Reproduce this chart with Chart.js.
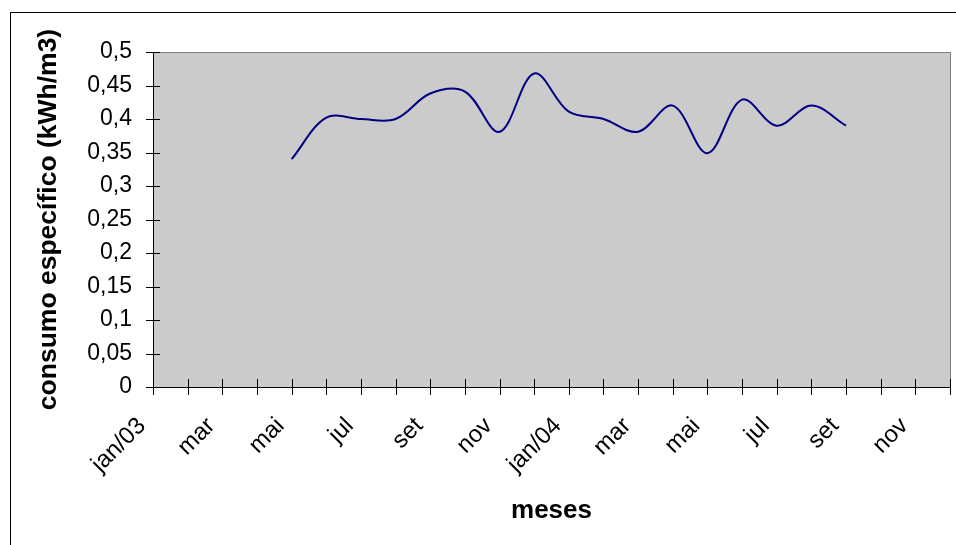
<!DOCTYPE html>
<html>
<head>
<meta charset="utf-8">
<title>Consumo específico</title>
<script src="https://cdn.jsdelivr.net/npm/chart.js@4/dist/chart.umd.min.js"></script>
<style>
  html, body { margin: 0; padding: 0; background: #fff; overflow: hidden; }
  #wrap { position: relative; width: 956px; height: 545px; overflow: hidden; }
  #frame { position: absolute; left: 10px; top: 12px; width: 960px; height: 550px;
           border: 1px solid #000; box-sizing: border-box; }
  #c { position: absolute; left: 0; top: 0; }
</style>
</head>
<body>
<div id="wrap">
  <div id="frame"></div>
  <canvas id="c" width="956" height="545"></canvas>
</div>
<script>
// Months from jan/03 to dez/04 (every other one is labelled on the axis)
const months = ['jan/03', 'fev', 'mar', 'abr', 'mai', 'jun', 'jul', 'ago', 'set', 'out', 'nov', 'dez',
                'jan/04', 'fev', 'mar', 'abr', 'mai', 'jun', 'jul', 'ago', 'set', 'out', 'nov', 'dez'];

// Specific consumption (kWh/m3), measured from mai/03 to set/04
const consumo = [null, null, null, null,
                 0.340, 0.402, 0.400, 0.400, 0.438, 0.441, 0.381, 0.468,
                 0.411, 0.400, 0.381, 0.420, 0.349, 0.429, 0.390, 0.420, 0.390,
                 null, null, null];

// Value axis range
const yMin = 0;
const yMax = 0.5;
const yStep = 0.05;

const FONT = "'Liberation Sans', Arial, Helvetica, sans-serif";

function fmtComma(v) {
  return String(Math.round(v * 100) / 100).replace('.', ',');
}

// Gray plot area with gray top/right border, plus tick marks crossing both axes
const plotFrame = {
  id: 'plotFrame',
  beforeDatasetsDraw(chart) {
    const { ctx, chartArea: a } = chart;
    ctx.save();
    ctx.fillStyle = '#cbcbcb';
    ctx.fillRect(a.left, a.top, a.right - a.left, a.bottom - a.top);
    ctx.strokeStyle = '#808080';
    ctx.lineWidth = 1;
    ctx.beginPath();
    ctx.moveTo(a.left, a.top + 0.5);
    ctx.lineTo(a.right + 0.5, a.top + 0.5);
    ctx.lineTo(a.right + 0.5, a.bottom);
    ctx.stroke();

    ctx.strokeStyle = '#000';
    ctx.beginPath();
    const y = chart.scales.y;
    y.ticks.forEach((t) => {
      const py = Math.round(y.getPixelForValue(t.value)) + 0.5;
      ctx.moveTo(a.left - 7, py);
      ctx.lineTo(a.left + 7, py);
    });
    const x = chart.scales.x;
    for (let i = 0; i < months.length; i++) {
      const px = Math.round(x.getPixelForValue(i)) + 0.5;
      ctx.moveTo(px, a.bottom - 8);
      ctx.lineTo(px, a.bottom + 8);
    }
    ctx.stroke();
    // axis lines
    ctx.beginPath();
    ctx.moveTo(Math.round(a.left) + 0.5, a.top);
    ctx.lineTo(Math.round(a.left) + 0.5, a.bottom);
    ctx.moveTo(a.left, Math.round(a.bottom) + 0.5);
    ctx.lineTo(a.right + 1, Math.round(a.bottom) + 0.5);
    ctx.stroke();
    ctx.restore();
  }
};

const PAD_LEFT = 33, PAD_TOP = 52, PAD_RIGHT = 6, PAD_BOTTOM = 19;
const AREA_LEFT = 153, AREA_BOTTOM = 387, CANVAS_H = 545;

new Chart(document.getElementById('c'), {
  type: 'line',
  data: {
    labels: months,
    datasets: [{
      label: 'consumo específico',
      data: consumo,
      borderColor: '#000080',
      borderWidth: 2,
      pointRadius: 0,
      pointHoverRadius: 0,
      fill: false,
      tension: 0.35
    }]
  },
  options: {
    responsive: false,
    animation: false,
    layout: { padding: { left: PAD_LEFT, top: PAD_TOP, right: PAD_RIGHT, bottom: PAD_BOTTOM } },
    plugins: {
      legend: { display: false },
      tooltip: { enabled: false }
    },
    scales: {
      x: {
        type: 'category',
        offset: false,
        border: { display: false },
        grid: { display: false, drawTicks: false },
        ticks: {
          autoSkip: false,
          maxRotation: 45,
          minRotation: 45,
          padding: 25,
          labelOffset: -11,
          color: '#000',
          font: { family: FONT, size: 24 },
          callback: function (val, i) { return i % 2 === 0 ? months[i] : ''; }
        },
        title: {
          display: true,
          text: 'meses',
          color: '#000',
          padding: { top: 0, bottom: 0 },
          font: { family: FONT, size: 26, weight: 'bold' }
        },
        afterFit(scale) {
          scale.height = CANVAS_H - AREA_BOTTOM - PAD_BOTTOM;
          scale.paddingLeft = 0;
          scale.paddingRight = 0;
        }
      },
      y: {
        min: yMin,
        max: yMax,
        border: { display: false },
        grid: { display: false, drawTicks: false },
        ticks: {
          stepSize: yStep,
          padding: 21,
          color: '#000',
          font: { family: FONT, size: 23 },
          callback: (v) => fmtComma(v)
        },
        title: {
          display: true,
          text: 'consumo específico (kWh/m3)',
          color: '#000',
          padding: { top: 0, bottom: 0 },
          font: { family: FONT, size: 26.5, weight: 'bold' }
        },
        afterFit(scale) {
          scale.width = AREA_LEFT - PAD_LEFT;
          scale.paddingTop = 0;
          scale.paddingBottom = 0;
        }
      }
    }
  },
  plugins: [plotFrame]
});
</script>
</body>
</html>
